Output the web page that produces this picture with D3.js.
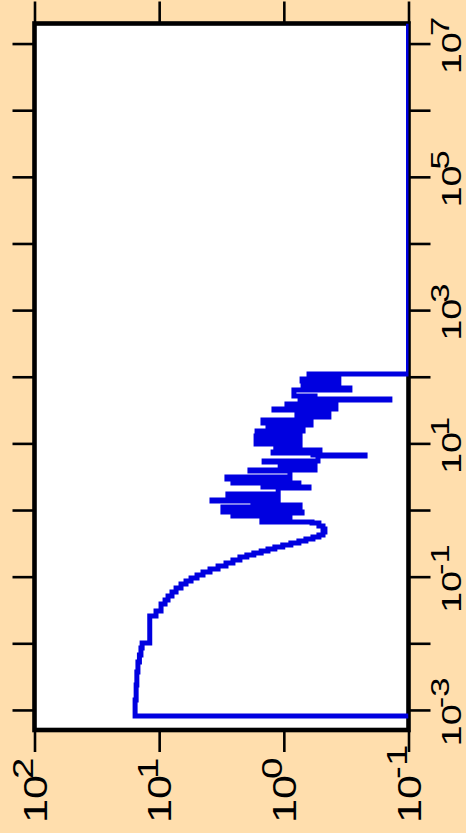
<!DOCTYPE html>
<html>
<head>
<meta charset="utf-8">
<script src="https://cdn.jsdelivr.net/npm/d3@7/dist/d3.min.js"></script>
<style>
  html, body { margin: 0; padding: 0; background: #FFDEAD; }
  svg { display: block; }
</style>
</head>
<body>
<svg id="chart" width="466" height="833"></svg>
<script>
// Group boundary energies (eV); each value in `sigma` holds from its energy to the next one.
const energy = [8.13e-4, 8.13e-4, 1.41e-3, 2.37e-3, 3.72e-3, 5.25e-3, 6.68e-3, 8.51e-3, 1.01e-2, 2.57e-2,
  3.05e-2, 3.89e-2, 4.47e-2, 5.13e-2, 5.89e-2, 6.76e-2, 7.76e-2, 8.61e-2, 9.55e-2, 0.106,
  0.117, 0.130, 0.145, 0.160, 0.178, 0.197, 0.211, 0.226, 0.243, 0.260,
  0.279, 0.299, 0.320, 0.343, 0.367, 0.394, 0.422, 0.468, 0.519, 0.575,
  0.638, 0.661, 0.785, 0.813, 0.902, 0.933, 1.11, 1.19, 1.37, 1.41,
  1.68, 1.74, 2.14, 2.21, 2.46, 2.54, 2.82, 2.92, 3.13, 3.85,
  3.98, 4.57, 5.25, 5.43, 6.46, 6.68, 7.16, 7.41, 7.94, 9.12,
  9.77, 10.8, 12.0, 12.9, 14.3, 15.3, 16.4, 18.8, 20.2, 22.4,
  24.8, 26.6, 28.5, 31.6, 32.7, 37.6, 38.9, 41.7, 44.7, 46.2,
  51.3, 63.1, 67.6, 77.6, 86.1, 92.3, 106, 110, 2e7];

// Group cross-section values (barns)
const sigma = [0.1, 15.6, 15.3, 15.1, 14.8, 14.4, 14.0, 13.7, 11.9, 10.6,
  9.66, 8.97, 8.49, 7.89, 7.32, 6.68, 6.09, 5.55, 4.97, 4.45,
  3.91, 3.37, 2.91, 2.56, 2.25, 1.98, 1.74, 1.52, 1.34, 1.18,
  1.02, 0.878, 0.757, 0.665, 0.584, 0.523, 0.485, 0.468, 0.485, 0.523,
  0.594, 1.50, 0.893, 2.56, 0.714, 3.08, 0.741, 1.77, 3.77, 1.11,
  2.81, 1.11, 0.628, 1.47, 0.757, 2.56, 0.893, 2.86, 0.893, 1.87,
  0.562, 1.07, 1.44, 0.532, 0.223, 0.584, 1.22, 0.513, 1.16, 0.741,
  1.67, 0.741, 1.67, 0.741, 1.64, 0.701, 1.34, 0.605, 1.47, 0.605,
  0.435, 0.785, 0.435, 1.20, 0.382, 0.944, 0.443, 0.741, 0.141, 0.562,
  0.830, 0.295, 0.701, 0.362, 0.714, 0.362, 0.628, 0.1, 0.1];

// Axis ticks
const energyTicks = [1e-3, 1e-2, 1e-1, 1e0, 1e1, 1e2, 1e3, 1e4, 1e5, 1e6, 1e7];
const energyLabelExps = [-3, -1, 1, 3, 5, 7];
const sigmaTicks = [1e2, 1e1, 1e0, 1e-1];
const sigmaLabelExps = [2, 1, 0, -1];

const frame = { left: 34.5, right: 408.5, top: 23.5, bottom: 730 };
const tickLen = 22;
const fontFamily = "'Liberation Sans', Arial, Helvetica, sans-serif";

// Cross section runs across the page (large values on the left), energy runs up the page.
const x = d3.scaleLog().domain([100, 0.1]).range([frame.left, frame.right]);
const y = d3.scaleLog().domain([5e-4, 2e7]).range([frame.bottom, frame.top]);

const svg = d3.select("#chart");

svg.append("rect")
  .attr("x", frame.left).attr("y", frame.top)
  .attr("width", frame.right - frame.left).attr("height", frame.bottom - frame.top)
  .attr("fill", "#ffffff");

svg.append("clipPath").attr("id", "plot-clip")
  .append("rect")
  .attr("x", frame.left).attr("y", frame.top)
  .attr("width", frame.right - frame.left).attr("height", frame.bottom - frame.top);

// Tick marks on all four sides
function styleAxis(g) {
  g.select(".domain").remove();
  g.selectAll(".tick line").attr("stroke", "#000").attr("stroke-width", 2.6);
  g.selectAll(".tick text").remove();
}
svg.append("g").attr("transform", `translate(0,${frame.bottom})`)
  .call(d3.axisBottom(x).tickValues(sigmaTicks).tickSize(tickLen).tickFormat(""))
  .call(styleAxis);
svg.append("g").attr("transform", `translate(0,${frame.top})`)
  .call(d3.axisTop(x).tickValues(sigmaTicks).tickSize(tickLen).tickFormat(""))
  .call(styleAxis);
svg.append("g").attr("transform", `translate(${frame.left},0)`)
  .call(d3.axisLeft(y).tickValues(energyTicks).tickSize(tickLen).tickFormat(""))
  .call(styleAxis);
svg.append("g").attr("transform", `translate(${frame.right},0)`)
  .call(d3.axisRight(y).tickValues(energyTicks).tickSize(tickLen).tickFormat(""))
  .call(styleAxis);

// Plot frame
svg.append("rect")
  .attr("x", frame.left).attr("y", frame.top)
  .attr("width", frame.right - frame.left).attr("height", frame.bottom - frame.top)
  .attr("fill", "none").attr("stroke", "#000").attr("stroke-width", 4.6);

// Group-wise cross section as a step curve
const pts = energy.map((e, i) => ({ e, s: sigma[i] }));
const line = d3.line()
  .x(d => x(d.s))
  .y(d => y(d.e))
  .curve(d3.curveStepBefore);

svg.append("path")
  .datum(pts)
  .attr("clip-path", "url(#plot-clip)")
  .attr("d", line)
  .attr("fill", "none")
  .attr("stroke", "#0000e0")
  .attr("stroke-width", 5)
  .attr("stroke-linejoin", "miter")
  .attr("stroke-linecap", "butt");

// Rotated power-of-ten labels, read from bottom to top
const stretch = 1.33;
function powerLabel(g, exp, mainSize, supSize, raise, anchor) {
  const t = g.append("text")
    .attr("font-family", fontFamily)
    .attr("fill", "#000")
    .attr("text-anchor", anchor);
  t.append("tspan").attr("font-size", mainSize).text("10");
  t.append("tspan").attr("font-size", supSize)
    .attr("dx", -3).attr("dy", -raise)
    .text(String(exp));
}

// Energy labels on the right
svg.append("g").selectAll("g")
  .data(energyLabelExps)
  .join("g")
  .attr("transform", d => `translate(461,${y(Math.pow(10, d)) + 2}) scale(1,${stretch}) rotate(-90)`)
  .each(function (d) { powerLabel(d3.select(this), d, 28.5, 26, 12.5, "middle"); });

// Cross-section labels along the bottom
svg.append("g").selectAll("g")
  .data(sigmaLabelExps)
  .join("g")
  .attr("transform", (d, i) => `translate(${x(sigmaTicks[i]) + 12},823) scale(1,${stretch}) rotate(-90)`)
  .each(function (d) { powerLabel(d3.select(this), d, 32.5, 29, 13.5, "start"); });
</script>
</body>
</html>
